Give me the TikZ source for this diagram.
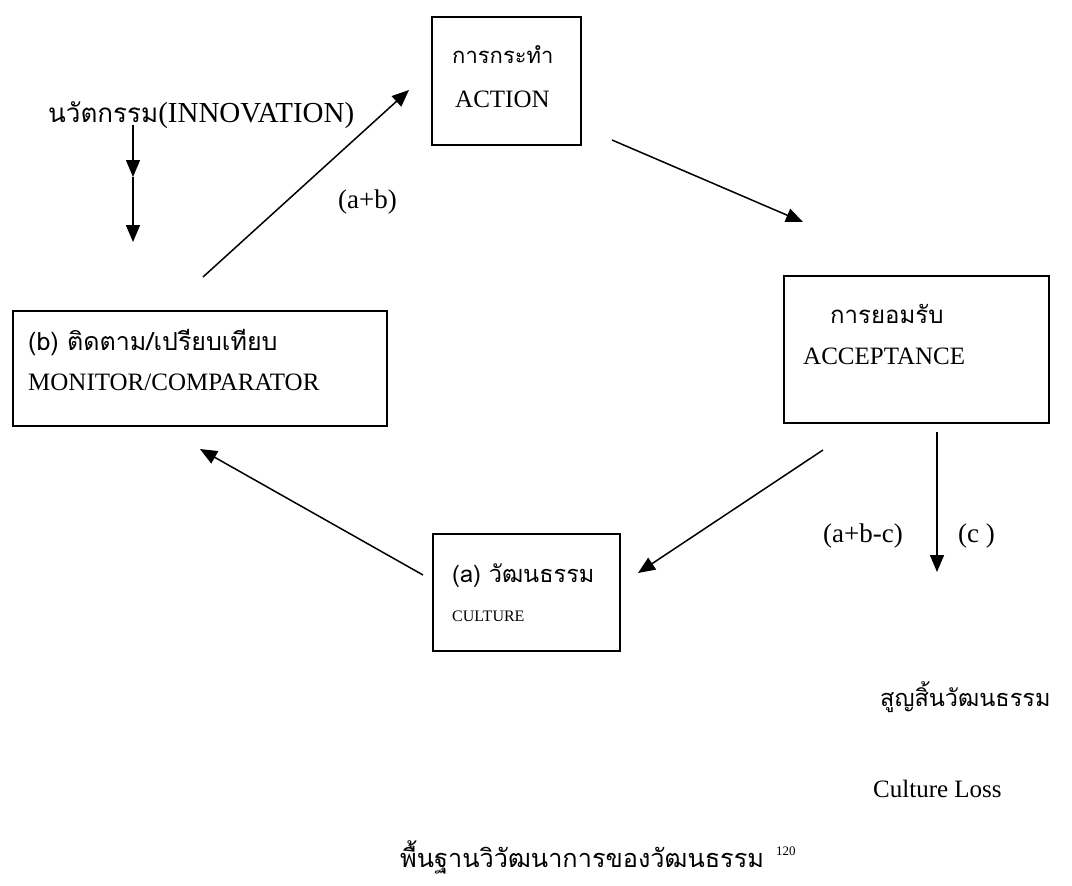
\documentclass[tikz,border=0pt]{standalone}
\usepackage{fontspec}
\setmainfont{Liberation Serif}
\newfontfamily\thai[Script=Thai]{Loma}
\usetikzlibrary{arrows.meta}
\begin{document}
\begin{tikzpicture}[x=1pt,y=-1pt,
  box/.style={draw,line width=1.5pt,inner sep=0pt},
  lbl/.style={inner sep=0pt,anchor=base west},
  big/.style={font=\fontsize{25}{30}\selectfont},
  mid/.style={font=\fontsize{27}{32}\selectfont},
  conn/.style={line width=1.5pt,-{Triangle[length=17pt,width=14pt]}}]
\useasboundingbox (0,0) rectangle (1072,886);
% boxes
\node[box,minimum width=149pt,minimum height=128pt,anchor=north west] (action) at (431,16) {};
\node[box,minimum width=374pt,minimum height=115pt,anchor=north west] (monitor) at (12,310) {};
\node[box,minimum width=265pt,minimum height=147pt,anchor=north west] (accept) at (783,275) {};
\node[box,minimum width=187pt,minimum height=117pt,anchor=north west] (culture) at (432,533) {};
% texts
\node[lbl,font=\thai\fontsize{22}{28}\selectfont] (t1) at (452,63) {การกระทำ};
\node[lbl,big] (t2) at (455,107) {ACTION};
\node[lbl,font=\thai\fontsize{25}{30}\selectfont] (t3) at (28,350) {(b) ติดตาม/เปรียบเทียบ};
\node[lbl,big] (t4) at (28,390) {MONITOR/COMPARATOR};
\node[lbl,font=\thai\fontsize{24}{30}\selectfont] (t5) at (830,323) {การยอมรับ};
\node[lbl,big] (t6) at (803,364) {ACCEPTANCE};
\node[lbl,font=\thai\fontsize{23.5}{30}\selectfont] (t7) at (452,582) {(a) วัฒนธรรม};
\node[lbl,font=\fontsize{16}{20}\selectfont] (t8) at (452,621) {CULTURE};
\node[lbl,font=\fontsize{29}{34}\selectfont] (inno) at (48,122) {{\thai\fontsize{26}{30}\selectfont นวัตกรรม}(INNOVATION)};
\node[lbl,mid] (ab) at (338,208) {(a+b)};
\node[lbl,mid] (abc) at (823,542) {(a+b-c)};
\node[lbl,mid] (c) at (958,542) {(c )};
\node[lbl,font=\thai\fontsize{23.5}{30}\selectfont] (loss) at (880,706) {สูญสิ้นวัฒนธรรม};
\node[lbl,big] (closs) at (873,797) {Culture Loss};
\node[lbl,font=\thai\fontsize{25.3}{30}\selectfont] (title) at (400,867) {พื้นฐานวิวัฒนาการของวัฒนธรรม};
\node[lbl,font=\fontsize{13}{15}\selectfont] (sup) at (776,855) {120};
% connector coordinates
\coordinate (i0) at (133,125);
\coordinate (i1) at (133,177);
\coordinate (i2) at (133,242);
\coordinate (p1) at (203,277);
\coordinate (p2) at (409,90);
\coordinate (q1) at (612,140);
\coordinate (q2) at (803,222);
\coordinate (r1) at (823,450);
\coordinate (r2) at (638,573);
\coordinate (s1) at (423,575);
\coordinate (s2) at (200,449);
\coordinate (d1) at (937,432);
\coordinate (d2) at (937,572);
\draw[conn] (i0) -- (i1);
\draw[conn] (i1) -- (i2);
\draw[conn] (p1) -- (p2);
\draw[conn] (q1) -- (q2);
\draw[conn] (r1) -- (r2);
\draw[conn] (s1) -- (s2);
\draw[conn] (d1) -- (d2);
\end{tikzpicture}
\end{document}
